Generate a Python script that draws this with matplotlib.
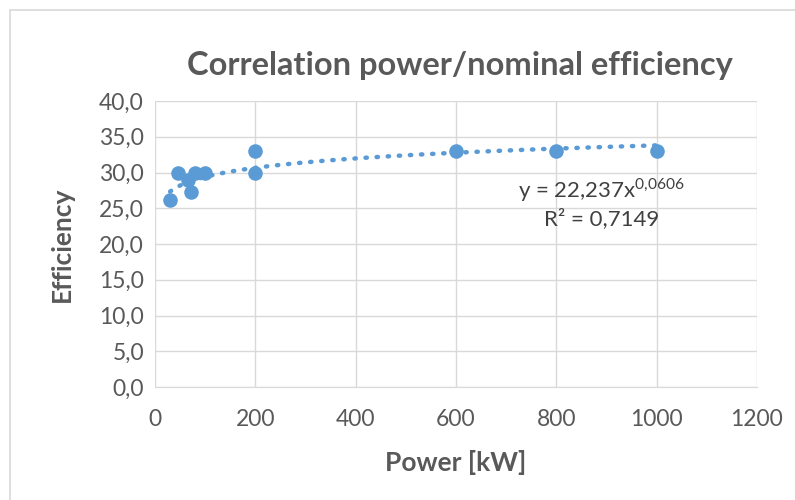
import numpy as np
import matplotlib
matplotlib.use("Agg")
import matplotlib.pyplot as plt
from matplotlib.patches import Rectangle

# data
power = [30, 45, 65, 72, 80, 100, 200, 200, 600, 800, 1000]
efficiency = [26.2, 30.0, 29.0, 27.3, 30.0, 30.0, 33.0, 30.0, 33.0, 33.0, 33.0]
trend_a = 22.237
trend_b = 0.0606
x_ticks = [0, 200, 400, 600, 800, 1000, 1200]
y_ticks = [0, 5, 10, 15, 20, 25, 30, 35, 40]

blue = '#5b9bd5'
gray = '#595959'

plt.rcParams['font.family'] = ['Lato', 'DejaVu Sans']
plt.rcParams['mathtext.fontset'] = 'custom'
plt.rcParams['mathtext.rm'] = 'Lato'

fig = plt.figure(figsize=(7.95, 5.0), dpi=100)
fig.patches.append(Rectangle((10 / 795, -0.01), 1.0, 0.99, transform=fig.transFigure,
                             fill=False, edgecolor='#d9d9d9', linewidth=1.2))
ax = fig.add_axes([0.195, 0.226, 0.757, 0.572])

# power trendline over the data range
xt = np.linspace(min(power), max(power), 200)
ax.plot(xt, trend_a * xt ** trend_b, color=blue, linewidth=3.2,
        linestyle=(0, (0.3, 2.2)), dash_capstyle='round', zorder=2)
ax.scatter(power, efficiency, s=110, color=blue, zorder=3, linewidths=0)

ax.set_xlim(0, 1200)
ax.set_ylim(0, 40)
ax.set_xticks(x_ticks)
ax.set_yticks(y_ticks)
ax.set_yticklabels([('%.1f' % v).replace('.', ',') for v in y_ticks])
ax.tick_params(length=0, labelsize=16.5, labelcolor=gray)
ax.tick_params(axis='x', pad=16)
ax.tick_params(axis='y', pad=8)
ax.grid(True, color='#d9d9d9', linewidth=1)
ax.set_axisbelow(True)
for side in ['top', 'right', 'left']:
    ax.spines[side].set_visible(False)
ax.spines['bottom'].set_color('#d9d9d9')

ax.set_xlabel('Power [kW]', fontsize=19, fontweight='bold', color=gray, labelpad=14)
ax.set_ylabel('Efficiency', fontsize=19, fontweight='bold', color=gray, labelpad=18)
fig.text(0.578, 0.87, 'Correlation power/nominal efficiency', fontsize=23.5,
         fontweight='bold', color=gray, ha='center', va='center')

ax.text(890, 27.6, 'y = 22,237x$^{0{,}0606}$', fontsize=16, color='#404040', ha='center', va='center')
ax.text(890, 23.5, 'R² = 0,7149', fontsize=16, color='#404040', ha='center', va='center')

fig.savefig('out.png', dpi=100)
